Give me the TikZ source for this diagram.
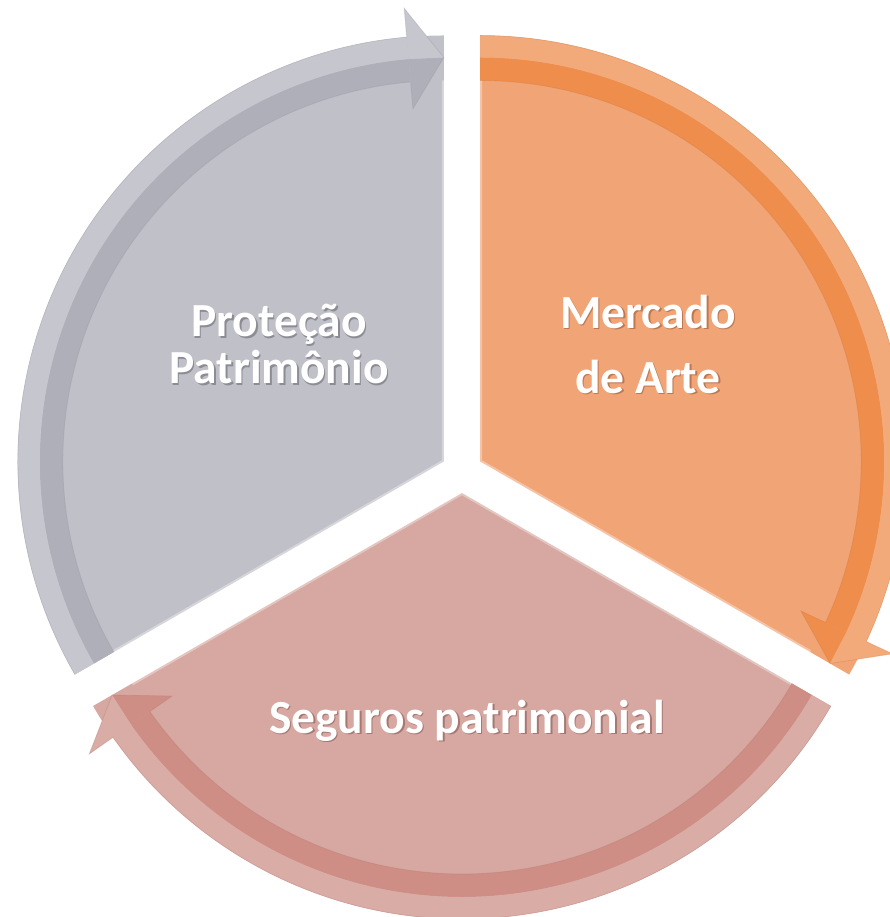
\documentclass[tikz,border=0pt]{standalone}
\usepackage{fontspec}
\setmainfont{Carlito}
\usepackage{tikz}
\definecolor{orFill}{RGB}{241,164,117}
\definecolor{orDark}{RGB}{239,141,76}
\definecolor{orLight}{RGB}{243,170,123}
\definecolor{orShade}{RGB}{190,120,80}
\definecolor{pkFill}{RGB}{214,168,161}
\definecolor{pkDark}{RGB}{206,142,133}
\definecolor{pkLight}{RGB}{217,172,165}
\definecolor{pkShade}{RGB}{165,120,115}
\definecolor{grFill}{RGB}{192,192,200}
\definecolor{grDark}{RGB}{174,175,184}
\definecolor{grLight}{RGB}{198,198,206}
\definecolor{grShade}{RGB}{140,140,148}
\newcommand{\shd}[2]{\makebox[0pt][l]{\kern1.5pt\raisebox{-1.5pt}{\textcolor{#1}{#2}}}#2}

\begin{document}
\begin{tikzpicture}[x=1pt,y=1pt,
	label/.style={text=white,font=\bfseries\fontsize{47.5}{47}\selectfont,align=center,inner sep=0pt}]
\def\gap{21}
\def\rin{381}
\def\rmid{404}
\def\rout{426}
\def\wing{51}
\useasboundingbox (-462,-445) rectangle (428,472);
\foreach \a/\sc in {90/or,-30/pk,210/gr}
{
	\pgfmathsetmacro{\b}{\a-60}
	\pgfmathsetmacro{\e}{\a-120}
	\pgfmathsetmacro{\h}{\a-115}
	\begin{scope}[shift={(\b:\gap)}]
		\fill[\sc Fill] (0,0) -- (\a:\rout) arc[start angle=\a,end angle=\e,radius=\rout] -- cycle;
		\draw[white,opacity=0.35,line width=4] (\a:\rin) -- (0,0) -- (\e:\rin);
		\fill[\sc Dark] (\a:\rin) arc[start angle=\a,end angle=\h,radius=\rin] -- (\h:\rmid) arc[start angle=\h,end angle=\a,radius=\rmid] -- cycle;
		\fill[\sc Light] (\a:\rmid) arc[start angle=\a,end angle=\h,radius=\rmid] -- (\h:\rout) arc[start angle=\h,end angle=\a,radius=\rout] -- cycle;
		\fill[\sc Dark] (\h:\rmid) -- (\h:\rin-\wing+24) -- (\e:\rmid) -- cycle;
		\fill[\sc Light] (\h:\rmid) -- (\h:\rout+\wing-22) -- (\e:\rmid) -- cycle;
		\draw[\sc Dark!85!black,opacity=0.3,line width=0.8] (\a:\rin) arc[start angle=\a,end angle=\h,radius=\rin] -- (\h:\rin-\wing+24) -- (\e:\rmid) -- (\h:\rout+\wing-22) -- (\h:\rout) arc[start angle=\h,end angle=\a,radius=\rout];
	\end{scope}
}
\node[label] (protecao) at (-183,127) {\shd{grShade}{Proteção}\\\shd{grShade}{Patrimônio}};
\node[label,font=\bfseries\fontsize{47.5}{65}\selectfont] (mercado) at (186,127) {\shd{orShade}{Mercado}\\\shd{orShade}{de Arte}};
\node[label,anchor=base] (seguros) at (5,-261) {\shd{pkShade}{Seguros patrimonial}};
\end{tikzpicture}
\end{document}
